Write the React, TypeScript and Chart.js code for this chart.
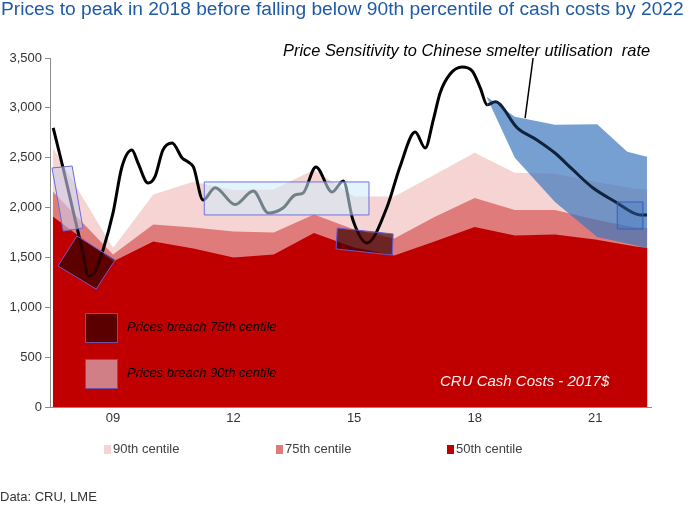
import React, { useEffect, useRef } from 'react';
import { Chart, registerables } from 'chart.js';

Chart.register(...registerables);

const FONT = 'Arial, "Liberation Sans", sans-serif';

// CRU cash cost centiles, 2017$ (t)
const costYears = [2007.5, 2009, 2010, 2011, 2012, 2013, 2014, 2015, 2016, 2017, 2018, 2019, 2020, 2021, 2022, 2022.3];
const p50 = [1910, 1460, 1660, 1590, 1500, 1530, 1745, 1600, 1520, 1660, 1805, 1720, 1730, 1680, 1610, 1595];
const p75 = [2160, 1530, 1830, 1800, 1760, 1750, 1930, 1780, 1690, 1905, 2095, 1975, 1975, 1880, 1800, 1795];
const p90 = [2600, 1595, 2130, 2260, 2175, 2180, 2380, 2110, 2110, 2330, 2550, 2350, 2340, 2260, 2190, 2180];

// LME price, actual then forecast
const priceYears = [
    2007.51, 2007.75, 2008.0, 2008.25, 2008.38, 2008.55, 2008.75, 2009.0, 2009.22, 2009.47,
    2009.62, 2009.87, 2010.04, 2010.24, 2010.47, 2010.72, 2010.87, 2011.0, 2011.24, 2011.54,
    2012.04, 2012.49, 2012.86, 2013.23, 2013.53, 2013.73, 2014.05, 2014.45, 2014.73, 2014.97,
    2015.32, 2015.82, 2016.14, 2016.52, 2016.77, 2016.97, 2017.14, 2017.39, 2017.69, 2017.94,
    2018.14, 2018.31, 2018.51, 2019.06, 2019.55, 2020.0, 2020.45, 2020.95, 2021.55, 2021.95,
    2022.12, 2022.29,
];
const priceValues = [
    2800, 2407, 1975, 1545, 1310, 1354, 1575, 1950, 2407, 2577,
    2447, 2246, 2307, 2577, 2648, 2497, 2457, 2407, 2076, 2200,
    2030, 2166, 1946, 1996, 2126, 2146, 2407, 2156, 2267, 1875,
    1645, 2006, 2407, 2758, 2597, 2878, 3150, 3340, 3410, 3370,
    3200, 3030, 3060, 2800, 2678, 2547, 2377, 2196, 2046, 1946,
    1926, 1926,
];

// sensitivity band
const fanYears = [2018.31, 2019.0, 2020.0, 2021.05, 2021.8, 2022.29];
const fanHigh = [3110, 2910, 2830, 2835, 2560, 2510];
const fanLow = [3100, 2500, 2056, 1705, 1640, 1595];

const xTicks = [2009, 2012, 2015, 2018, 2021];
const yTicks = [0, 500, 1000, 1500, 2000, 2500, 3000, 3500];

// highlight boxes, corners in (year, $/t)
const boxes = [
    { pts: [[2007.48, 2397], [2007.98, 2417], [2008.25, 1795], [2007.76, 1765]], fill: 'rgba(205,205,235,0.6)', stroke: '#6b6bd6' },
    { pts: [[2008.1, 1715], [2009.05, 1474], [2008.58, 1183], [2007.63, 1414]], fill: 'rgba(60,0,0,0.75)', stroke: '#6a5acd' },
    { pts: [[2011.27, 2257], [2015.37, 2257], [2015.37, 1926], [2011.27, 1926]], fill: 'rgba(205,235,250,0.55)', stroke: '#7070e0' },
    { pts: [[2014.58, 1795], [2015.97, 1735], [2015.95, 1524], [2014.55, 1585]], fill: 'rgba(60,0,0,0.7)', stroke: '#6a5acd' },
    { pts: [[2021.55, 2056], [2022.19, 2056], [2022.19, 1785], [2021.55, 1785]], fill: 'rgba(60,120,200,0.3)', stroke: '#3060c0' },
];
const leader = [[2019.455, 3500], [2019.256, 2898]];

const xy = (xs: number[], ys: number[]) => xs.map((x, i) => ({ x, y: ys[i] }));

const notesPlugin = {
    id: 'notes',
    afterDatasetsDraw(chart: any) {
        const { ctx, scales } = chart;
        const px = (p: number[]) => [scales.x.getPixelForValue(p[0]), scales.y.getPixelForValue(p[1])];
        ctx.save();
        boxes.forEach((b) => {
            ctx.beginPath();
            b.pts.forEach((p, i) => {
                const [x, y] = px(p);
                if (i === 0) ctx.moveTo(x, y);
                else ctx.lineTo(x, y);
            });
            ctx.closePath();
            ctx.fillStyle = b.fill;
            ctx.fill();
            ctx.lineWidth = 1;
            ctx.strokeStyle = b.stroke;
            ctx.stroke();
        });
        const a = px(leader[0]);
        const b = px(leader[1]);
        ctx.beginPath();
        ctx.moveTo(a[0], a[1]);
        ctx.lineTo(b[0], b[1]);
        ctx.lineWidth = 1.5;
        ctx.strokeStyle = '#000';
        ctx.stroke();
        ctx.restore();
    },
};

export default function App() {
    const chartRef = useRef<HTMLCanvasElement>(null);

    useEffect(() => {
        const ctx = chartRef.current?.getContext('2d');
        if (!ctx) return;
        Chart.defaults.font.family = FONT;

        const chart = new Chart(ctx, {
            type: 'line',
            data: {
                datasets: [
                    {
                        label: 'Price',
                        data: xy(priceYears, priceValues),
                        borderColor: '#000',
                        borderWidth: 3,
                        pointRadius: 0,
                        cubicInterpolationMode: 'monotone',
                        fill: false,
                        segment: {
                            borderColor: (c: any) => (c.p0.parsed.x >= 2018.3 ? '#10233c' : '#000'),
                        },
                    },
                    {
                        label: 'Sensitivity high',
                        data: xy(fanYears, fanHigh),
                        borderWidth: 0,
                        pointRadius: 0,
                        backgroundColor: 'rgba(60,120,190,0.7)',
                        fill: 2,
                    },
                    {
                        label: 'Sensitivity low',
                        data: xy(fanYears, fanLow),
                        borderWidth: 0,
                        pointRadius: 0,
                        fill: false,
                    },
                    {
                        label: '50th centile',
                        data: xy(costYears, p50),
                        borderWidth: 0,
                        pointRadius: 0,
                        backgroundColor: '#c00000',
                        fill: 'origin',
                    },
                    {
                        label: '75th centile',
                        data: xy(costYears, p75),
                        borderWidth: 0,
                        pointRadius: 0,
                        backgroundColor: '#e07b7b',
                        fill: 'origin',
                    },
                    {
                        label: '90th centile',
                        data: xy(costYears, p90),
                        borderWidth: 0,
                        pointRadius: 0,
                        backgroundColor: '#f6d4d4',
                        fill: 'origin',
                    },
                ],
            },
            options: {
                responsive: false,
                animation: false,
                layout: { padding: { left: 0, top: 58, right: 47, bottom: 76 } },
                plugins: {
                    legend: { display: false },
                    tooltip: { enabled: false },
                },
                scales: {
                    x: {
                        type: 'linear',
                        min: 2007.43,
                        max: 2022.39,
                        afterBuildTicks: (s: any) => {
                            s.ticks = xTicks.map((v) => ({ value: v }));
                        },
                        afterFit: (s: any) => {
                            s.height = 25;
                        },
                        grid: { display: false, drawTicks: false },
                        border: { display: true, color: '#8c8c8c' },
                        ticks: {
                            padding: 4,
                            maxRotation: 0,
                            autoSkip: false,
                            color: '#333',
                            font: { size: 13 },
                            callback: (v: any) => String(v).slice(2),
                        },
                    },
                    y: {
                        min: 0,
                        max: 3500,
                        afterBuildTicks: (s: any) => {
                            s.ticks = yTicks.map((v) => ({ value: v }));
                        },
                        afterFit: (s: any) => {
                            s.width = 50;
                        },
                        grid: { display: true, drawOnChartArea: false, drawTicks: true, tickLength: 5, color: '#8c8c8c' },
                        border: { display: true, color: '#8c8c8c' },
                        ticks: {
                            padding: 3,
                            color: '#333',
                            font: { size: 13 },
                            callback: (v: any) => Number(v).toLocaleString('en-US'),
                        },
                    },
                },
            },
            plugins: [notesPlugin],
        });

        return () => chart.destroy();
    }, []);

    const abs = (o: React.CSSProperties): React.CSSProperties => ({ position: 'absolute', whiteSpace: 'nowrap', ...o });

    return (
        <div style={{ position: 'absolute', left: 0, top: 0, width: 698, height: 508, background: '#fff', fontFamily: FONT, overflow: 'hidden' }}>
            <canvas ref={chartRef} width={698} height={508} style={{ position: 'absolute', left: 0, top: 0 }}></canvas>
            <div style={abs({ left: 1, top: -2, fontSize: 19.2, lineHeight: '22px', color: '#1f5aa6' })}>
                Prices to peak in 2018 before falling below 90th percentile of cash costs by 2022
            </div>
            <div style={abs({ left: 283, top: 40, fontSize: 16.4, lineHeight: '20px', fontStyle: 'italic', color: '#000' })}>
                Price Sensitivity to Chinese smelter utilisation&nbsp; rate
            </div>

            <div style={abs({ left: 85, top: 313, width: 31, height: 28, background: '#5a0000', border: '1px solid #7050a0' })}></div>
            <div style={abs({ left: 127, top: 318, fontSize: 13, lineHeight: '18px', fontStyle: 'italic', color: '#000' })}>
                Prices breach 75th centile
            </div>
            <div style={abs({ left: 85, top: 359, width: 31, height: 28, background: '#d17f86', border: '1px solid #7050a0' })}></div>
            <div style={abs({ left: 127, top: 364, fontSize: 13, lineHeight: '18px', fontStyle: 'italic', color: '#000' })}>
                Prices breach 90th centile
            </div>
            <div style={abs({ left: 440, top: 371, fontSize: 15, lineHeight: '20px', fontStyle: 'italic', color: '#f2f2f2' })}>
                CRU Cash Costs - 2017$
            </div>

            <div style={abs({ left: 104, top: 445, width: 7, height: 9, background: '#f6d4d4' })}></div>
            <div style={abs({ left: 113, top: 440, fontSize: 13, lineHeight: '18px', color: '#404040' })}>90th centile</div>
            <div style={abs({ left: 276, top: 445, width: 7, height: 9, background: '#e07b7b' })}></div>
            <div style={abs({ left: 285, top: 440, fontSize: 13, lineHeight: '18px', color: '#404040' })}>75th centile</div>
            <div style={abs({ left: 447, top: 445, width: 7, height: 9, background: '#c00000' })}></div>
            <div style={abs({ left: 456, top: 440, fontSize: 13, lineHeight: '18px', color: '#404040' })}>50th centile</div>

            <div style={abs({ left: 0, top: 488, fontSize: 13, lineHeight: '18px', color: '#333' })}>Data: CRU, LME</div>
        </div>
    );
}
